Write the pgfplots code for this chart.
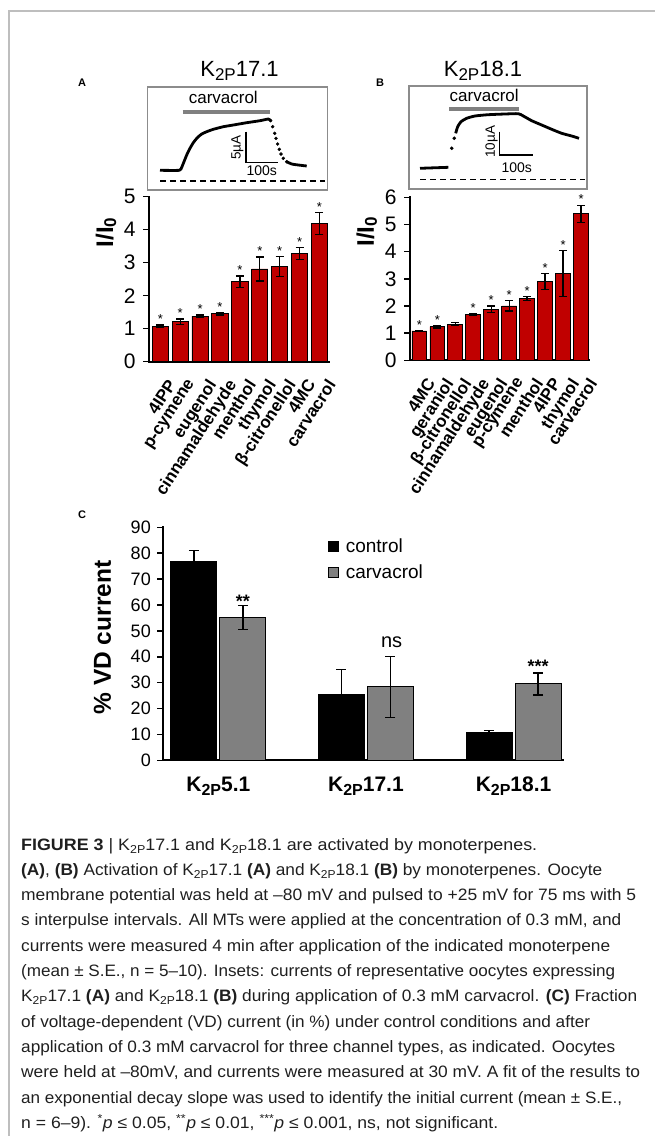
\documentclass[border=0pt]{standalone}
\usepackage{fontspec}
\setmainfont{Liberation Sans}
\usepackage{graphicx}
\usepackage{pgfplots}
\usepackage{pgfplotstable}
\pgfplotsset{compat=1.18}
\definecolor{barred}{RGB}{192,0,0}
\definecolor{bargray}{RGB}{128,128,128}
\definecolor{framegray}{RGB}{190,190,190}
\definecolor{insetgray}{RGB}{140,140,140}
\newcommand{\fs}[1]{\fontsize{#1}{#1}\selectfont}
\newcommand{\KP}[2]{K\raisebox{-#2}{\fontsize{#1}{#1}\selectfont 2P}}

\pgfplotstableread{
x y e
0 1.08 0.03
1 1.21 0.08
2 1.38 0.04
3 1.46 0.04
4 2.42 0.18
5 2.81 0.36
6 2.88 0.30
7 3.28 0.19
8 4.19 0.34
}\dataA

\pgfplotstableread{
x y e
0 1.08 0.02
1 1.24 0.05
2 1.33 0.06
3 1.68 0.04
4 1.88 0.12
5 2.00 0.19
6 2.28 0.07
7 2.90 0.30
8 3.19 0.85
9 5.39 0.32
}\dataB

% x = channel index - 0.1657 (control) / + 0.1657 (carvacrol)
\pgfplotstableread{
x y e
-0.1657 76.8 4.2
0.8343 25.4 9.6
1.8343 10.6 1.0
}\dataCcontrol

\pgfplotstableread{
x y e
0.1657 55.2 4.6
1.1657 28.4 11.8
2.1657 29.5 4.2
}\dataCcarv

\pgfplotsset{
  barpanel/.style={
    scale only axis, anchor=south west,
    axis x line*=bottom, axis y line*=left,
    axis line style={line width=2.2pt, line cap=rect},
    tick align=outside, major tick length=6pt,
    ytick style={line width=1.5pt, black},
    xtick style={draw=none},
    /pgf/number format/assume math mode=true,
    clip=false,
  },
  inset/.style={
    scale only axis, anchor=south west, y dir=reverse,
    ticks=none, axis line style={draw=insetgray, line width=1.6pt},
    clip=false,
  },
}

\begin{document}
\begin{tikzpicture}
\path[use as bounding box] (0,0) rectangle (654pt,-1136pt);
\draw[framegray, line width=1.2pt] (9pt,-1136pt) -- (9pt,-11pt) -- (660pt,-11pt);

% ---------- panel labels and titles
\node[font=\bfseries\fs{11}] at (82pt,-82.7pt) {A};
\node[font=\bfseries\fs{11}] at (380pt,-82.7pt) {B};
\node[font=\bfseries\fs{11}] at (82pt,-515pt) {C};
\node[anchor=base, font=\fs{22}] at (239.5pt,-76pt) {\KP{17pt}{4pt}17.1};
\node[anchor=base, font=\fs{22}] at (483pt,-76pt) {\KP{17pt}{4pt}18.1};

% ---------- inset A
\begin{axis}[inset, at={(147.5pt,-190pt)}, width=180pt, height=103pt,
  xmin=147.5, xmax=327.5, ymin=87, ymax=190]
\addplot[bargray, line width=4pt] coordinates {(182.7,111.7) (270,111.7)};
\addplot[black, line width=1.4pt, dash pattern=on 6pt off 4pt] coordinates {(160,181) (325,181)};
\addplot[black, line width=2.8pt, smooth, tension=0.3] coordinates {
(160,170.3) (179.3,170.3) (181.7,167.3) (184,161.7) (186.7,155) (190,148.3)
(193.3,142.7) (197.3,137.7) (201.7,134) (206.7,131.7) (213.3,129.3) (223.3,126.7)
(233.3,125) (246.7,122.7) (260,120.7) (268.3,119) (270.7,120.7)};
\addplot[only marks, mark=*, mark size=1.5pt, black] coordinates {
(270.7,120.7) (272.7,126.7) (274.7,133.3) (276,138.3) (277.7,144) (279.3,149.3)
(281,154) (283.3,158.3) (286.7,161.7)};
\addplot[black, line width=2.8pt, smooth, tension=0.3] coordinates {
(286.7,161.7) (291.7,164) (298.3,165) (306.7,166)};
\addplot[black, line width=1.2pt] coordinates {(246,131.7) (246,162.7) (278.3,162.7)};
\node[anchor=base, font=\fs{17}] at (axis cs:223.3,103.3) {carvacrol};
\node[rotate=90, font=\fs{13.5}] at (axis cs:237.5,147.5) {5µA};
\node[anchor=base, font=\fs{14}] at (axis cs:261.7,175.5) {100s};
\end{axis}

% ---------- inset B
\begin{axis}[inset, at={(409pt,-189pt)}, width=178pt, height=103pt,
  xmin=409, xmax=587, ymin=86, ymax=189]
\addplot[bargray, line width=4pt] coordinates {(449.3,109.3) (519.3,109.3)};
\addplot[black, line width=1.4pt, dash pattern=on 6pt off 4pt] coordinates {(420,179.3) (585,179.3)};
\addplot[black, line width=2.8pt] coordinates {(420,168.3) (448.3,167.3)};
\addplot[only marks, mark=*, mark size=1.6pt, black] coordinates {(451.7,148.3) (454.3,138.3)};
\addplot[black, line width=2.8pt, smooth, tension=0.4] coordinates {
(455.7,133.3) (457.7,126.7) (461,121.7) (466.7,118.3) (475,116) (488.3,114.7)
(505,114) (518.3,113.7) (523.3,116) (531.7,120.7) (541.7,125) (551.7,129.3)
(561.7,133.3) (571.7,136) (579,138.3)};
\addplot[black, line width=1.2pt] coordinates {(499.3,131.7) (499.3,155) (533.3,155)};
\node[anchor=base, font=\fs{17}] at (axis cs:484.2,101.7) {carvacrol};
\node[rotate=90, font=\fs{13.5}] at (axis cs:491.5,141.7) {10µA};
\node[anchor=base, font=\fs{14}] at (axis cs:516.7,172) {100s};
\end{axis}

% ---------- panel A bars
\begin{axis}[barpanel, at={(149pt,-361.7pt)}, width=180pt, height=165pt,
  xmin=-0.57, xmax=8.48, ymin=0, ymax=5,
  ytick={0,1,2,3,4,5}, xtick={0,...,8},
  xticklabels={4IPP,p-cymene,eugenol,cinnamaldehyde,menthol,thymol,β-citronellol,4MC,carvacrol},
  yticklabel style={font=\fs{21}, xshift=-4pt},
  xticklabel style={font=\bfseries\fs{17}, rotate=57, anchor=north east, inner sep=0pt, yshift=-11pt, xshift=-5pt},
]
\addplot[ybar, bar width=16.3pt, bar shift=0pt, fill=barred, draw=black, line width=0.9pt,
  error bars/.cd, y dir=both, y explicit,
  error bar style={line width=1.3pt, black},
  error mark options={rotate=90, mark size=4pt, line width=1.3pt, black}]
  table[x=x, y=y, y error=e] {\dataA};
\addplot[draw=none, nodes near coords={*}, nodes near coords style={anchor=south, inner sep=0pt, font=\fs{13}, yshift=1pt}]
  table[x=x, y expr=\thisrow{y}+\thisrow{e}] {\dataA};
\end{axis}
\node[rotate=90, font=\bfseries\fs{24}] at (106pt,-232.5pt) {I/I\raisebox{-3pt}{\fs{17}0}};

% ---------- panel B bars
\begin{axis}[barpanel, at={(410pt,-360.3pt)}, width=179.3pt, height=163pt,
  xmin=-0.52, xmax=9.46, ymin=0, ymax=6,
  ytick={0,1,2,3,4,5,6}, xtick={0,...,9},
  xticklabels={4MC,geraniol,β-citronellol,cinnamaldehyde,eugenol,p-cymene,menthol,4IPP,thymol,carvacrol},
  yticklabel style={font=\fs{21}, xshift=-4pt},
  xticklabel style={font=\bfseries\fs{17}, rotate=57, anchor=north east, inner sep=0pt, yshift=-11pt, xshift=-5pt},
]
\addplot[ybar, bar width=14.7pt, bar shift=0pt, fill=barred, draw=black, line width=0.9pt,
  error bars/.cd, y dir=both, y explicit,
  error bar style={line width=1.3pt, black},
  error mark options={rotate=90, mark size=4pt, line width=1.3pt, black}]
  table[x=x, y=y, y error=e] {\dataB};
\addplot[draw=none, nodes near coords={*}, nodes near coords style={anchor=south, inner sep=0pt, font=\fs{13}, yshift=1pt}]
  coordinates {(0,1.10) (1,1.29) (3,1.72) (4,2.00) (5,2.19) (6,2.35) (7,3.20) (8,4.04) (9,5.71)};
\end{axis}
\node[rotate=90, font=\bfseries\fs{24}] at (366.7pt,-231.7pt) {I/I\raisebox{-3pt}{\fs{17}0}};

% ---------- panel C
\begin{axis}[barpanel, at={(163.3pt,-760.3pt)}, width=399.4pt, height=233pt,
  xmin=-0.373, xmax=2.333, ymin=0, ymax=90,
  ytick={0,10,...,90}, xtick={0,1,2},
  xticklabels={\KP{16pt}{4pt}5.1,\KP{16pt}{4pt}17.1,\KP{16pt}{4pt}18.1},
  yticklabel style={font=\fs{18}, xshift=-3pt},
  xticklabel style={font=\bfseries\fs{21}, anchor=base, yshift=-25pt},
  legend style={at={(0.4116,0.96)}, anchor=north west, draw=none, fill=none,
    font=\fs{19}, row sep=7pt, inner sep=0pt,
    /tikz/every odd column/.append style={column sep=5pt}},
  legend cell align=left,
  legend image code/.code={\fill[#1] (0pt,-5pt) rectangle (10pt,5pt);},
]
\addplot[ybar, bar width=46pt, bar shift=0pt, fill=black, draw=black, line width=0.9pt,
  error bars/.cd, y dir=both, y explicit,
  error bar style={line width=1.4pt, black},
  error mark options={rotate=90, mark size=5pt, line width=1.4pt, black}]
  table[x=x, y=y, y error=e] {\dataCcontrol};
\addlegendentry{control}
\addplot[ybar, bar width=46pt, bar shift=0pt, fill=bargray, draw=black, line width=0.9pt,
  error bars/.cd, y dir=both, y explicit,
  error bar style={line width=1.4pt, black},
  error mark options={rotate=90, mark size=5pt, line width=1.4pt, black}]
  table[x=x, y=y, y error=e] {\dataCcarv};
\addlegendentry{carvacrol}
\node[font=\bfseries\fs{18}] at (axis cs:0.1657,61.5) {**};
\node[font=\fs{20}] at (axis cs:1.174,45.8) {ns};
\node[font=\bfseries\fs{18}] at (axis cs:2.167,36.3) {***};
\end{axis}
\node[rotate=90, font=\bfseries\fs{24.5}] at (102.5pt,-637.5pt) {\% VD current};

% ---------- caption
\begin{scope}[every node/.style={anchor=base west, inner sep=0pt, font=\fs{16.5}, text=black!88}]
\node at (21pt,-850pt) {\resizebox{516pt}{\height}{\textbf{FIGURE 3} | \KP{11.5pt}{3pt}17.1 and \KP{11.5pt}{3pt}18.1 are activated by monoterpenes.}};
\node at (21pt,-875.3pt) {\resizebox{581pt}{\height}{\textbf{(A)}, \textbf{(B)} Activation of \KP{11.5pt}{3pt}17.1 \textbf{(A)} and \KP{11.5pt}{3pt}18.1 \textbf{(B)} by monoterpenes. Oocyte}};
\node at (21pt,-900.6pt) {\resizebox{615pt}{\height}{membrane potential was held at –80 mV and pulsed to +25 mV for 75 ms with 5}};
\node at (21pt,-925.9pt) {\resizebox{600pt}{\height}{s interpulse intervals. All MTs were applied at the concentration of 0.3 mM, and}};
\node at (21pt,-951.2pt) {\resizebox{589pt}{\height}{currents were measured 4 min after application of the indicated monoterpene}};
\node at (21pt,-976.5pt) {\resizebox{594pt}{\height}{(mean ± S.E., n = 5–10). Insets: currents of representative oocytes expressing}};
\node at (21pt,-1001.8pt) {\resizebox{616pt}{\height}{\KP{11.5pt}{3pt}17.1 \textbf{(A)} and \KP{11.5pt}{3pt}18.1 \textbf{(B)} during application of 0.3 mM carvacrol. \textbf{(C)} Fraction}};
\node at (21pt,-1027.1pt) {\resizebox{569pt}{\height}{of voltage-dependent (VD) current (in \%) under control conditions and after}};
\node at (21pt,-1052.4pt) {\resizebox{594pt}{\height}{application of 0.3 mM carvacrol for three channel types, as indicated. Oocytes}};
\node at (21pt,-1077.7pt) {\resizebox{619pt}{\height}{were held at –80mV, and currents were measured at 30 mV. A fit of the results to}};
\node at (21pt,-1103pt) {\resizebox{601pt}{\height}{an exponential decay slope was used to identify the initial current (mean ± S.E.,}};
\node at (21pt,-1128.3pt) {\resizebox{477pt}{\height}{n = 6–9). \textsuperscript{*}\textit{p} ≤ 0.05, \textsuperscript{**}\textit{p} ≤ 0.01, \textsuperscript{***}\textit{p} ≤ 0.001, ns, not significant.}};
\end{scope}
\end{tikzpicture}
\end{document}
